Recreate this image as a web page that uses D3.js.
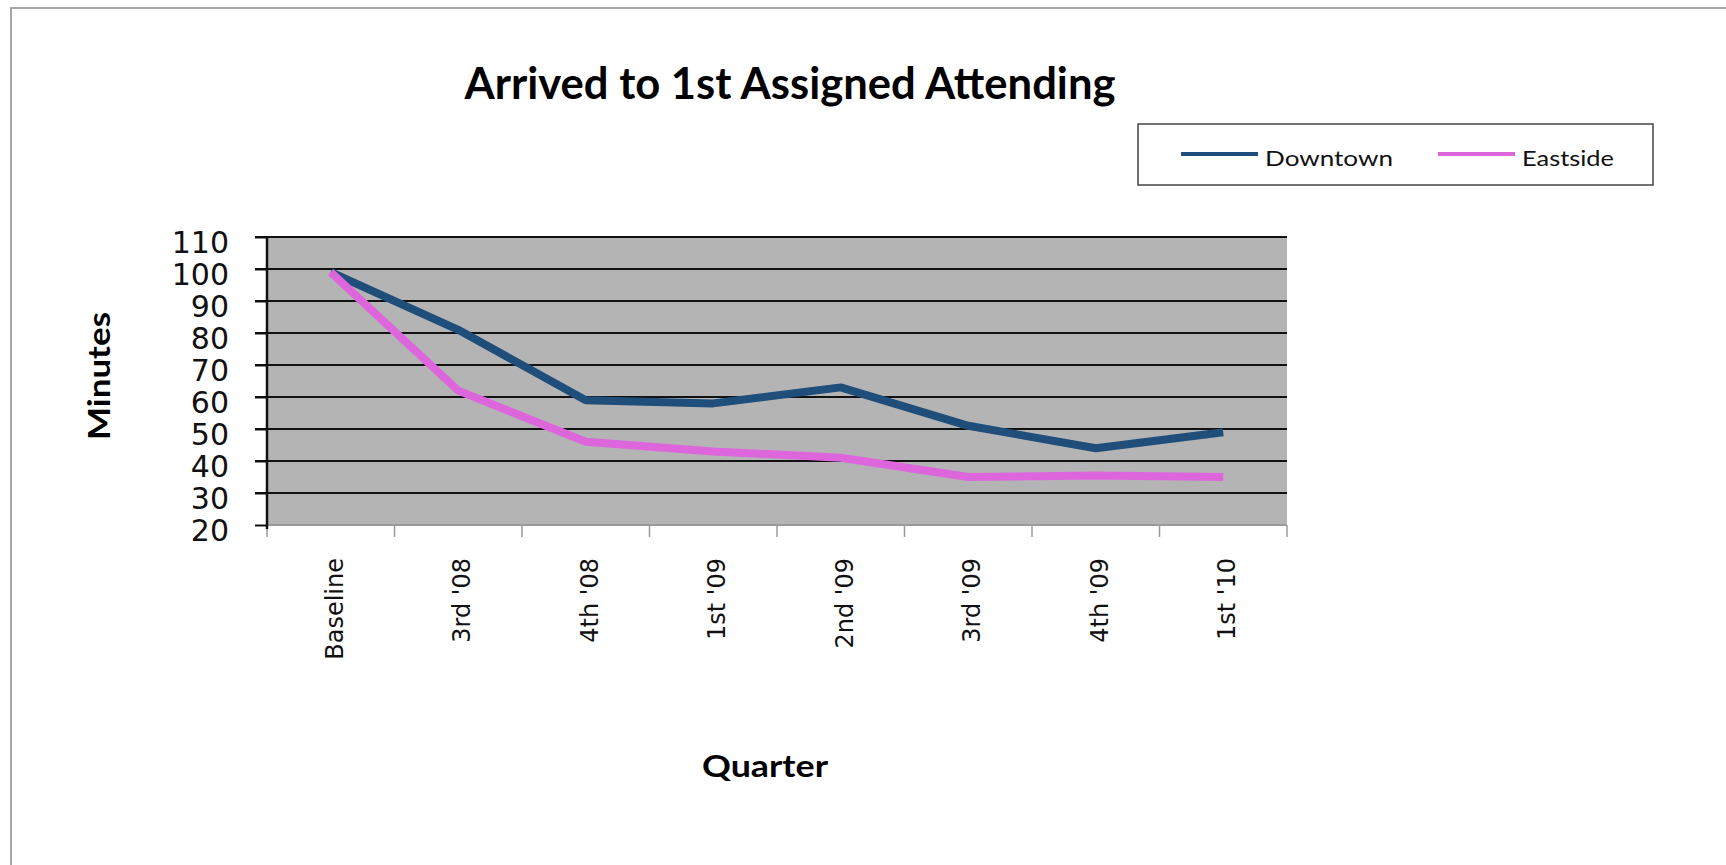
<!DOCTYPE html>
<html>
<head>
<meta charset="utf-8">
<script src="https://d3js.org/d3.v7.min.js"></script>
<style>
  body { margin: 0; background: #fff; overflow: hidden; }
  svg { display: block; }
</style>
</head>
<body>
<div id="chart"></div>
<script>

// data
var quarters = ["Baseline", "3rd '08", "4th '08", "1st '09", "2nd '09", "3rd '09", "4th '09", "1st '10"];
var downtown = [99, 81, 59, 58, 63, 51, 44, 49];
var eastside = [99, 62, 46, 43, 41, 35, 35.5, 35];
var yTicks = [20, 30, 40, 50, 60, 70, 80, 90, 100, 110];
var seriesNames = ["Downtown", "Eastside"];
var seriesColors = ["#1f4e7a", "#dd66dd"];

var W = 1726, H = 865;
var margin = {top: 237, right: 439, bottom: 340, left: 267},
    width = W - margin.left - margin.right,
    height = H - margin.top - margin.bottom;

var svg = d3.select("#chart")
  .append("svg")
    .attr("width", W)
    .attr("height", H);

// outer frame of the chart object (right and bottom edges run off the page)
svg.append("rect")
    .attr("x", 11).attr("y", 8)
    .attr("width", W + 20).attr("height", H + 20)
    .style("fill", "#fff")
    .style("stroke", "#a6a6a6")
    .style("stroke-width", 2);

var g = svg.append("g")
    .attr("transform", "translate(" + margin.left + "," + margin.top + ")");

var x = d3.scaleBand()
    .domain(quarters)
    .range([0, width]);

var y = d3.scaleLinear()
    .domain([20, 110])
    .range([height, 0]);

// plot area
g.append("rect")
    .attr("width", width)
    .attr("height", height)
    .style("fill", "#b4b4b4");

// gridlines
g.append("g")
    .selectAll("line")
    .data(yTicks.filter(function(d) { return d > 20; }))
    .enter().append("line")
      .attr("x1", -12)
      .attr("x2", width)
      .attr("y1", function(d) { return y(d); })
      .attr("y2", function(d) { return y(d); })
      .style("stroke", "#111")
      .style("stroke-width", 2);

// x axis (ticks between categories)
var xAxis = g.append("g")
    .attr("transform", "translate(0," + height + ")");
xAxis.append("line")
    .attr("x1", 0).attr("x2", width)
    .style("stroke", "#9a9a9a")
    .style("stroke-width", 2);
xAxis.selectAll(".xtick")
    .data(quarters.map(function(d) { return x(d); }).concat([width]))
    .enter().append("line")
      .attr("class", "xtick")
      .attr("x1", function(d) { return d; })
      .attr("x2", function(d) { return d; })
      .attr("y1", 0).attr("y2", 12)
      .style("stroke", "#9a9a9a")
      .style("stroke-width", 1.5);
xAxis.selectAll(".xlab")
    .data(quarters)
    .enter().append("text")
      .attr("class", "xlab")
      .attr("transform", function(d) {
        return "translate(" + (x(d) + x.bandwidth() / 2) + ",33) rotate(-90)";
      })
      .attr("dy", "0.5em")
      .style("text-anchor", "end")
      .style("font-family", "DejaVu Sans")
      .style("font-size", "24px")
      .style("fill", "#111")
      .text(function(d) { return d; });

// y axis
var yAxis = g.append("g")
    .call(d3.axisLeft(y).tickValues(yTicks).tickSize(12).tickPadding(26).tickFormat(d3.format("d")));
yAxis.select(".domain")
    .attr("d", "M0,0V" + (height + 4))
    .style("stroke", "#111")
    .style("stroke-width", 2.5);
yAxis.selectAll(".tick line")
    .style("stroke", "#111")
    .style("stroke-width", 2);
yAxis.selectAll(".tick text")
    .attr("dy", "0.5em")
    .style("font-family", "DejaVu Sans")
    .style("font-size", "30px")
    .style("fill", "#111");

// lines
var line = d3.line()
    .x(function(d, i) { return x(quarters[i]) + x.bandwidth() / 2; })
    .y(function(d) { return y(d); });

[downtown, eastside].forEach(function(vals, k) {
  g.append("path")
    .datum(vals)
    .attr("d", line)
    .style("fill", "none")
    .style("stroke", seriesColors[k])
    .style("stroke-width", 8)
    .style("stroke-linejoin", "round");
});

// title
svg.append("text")
    .attr("x", 790).attr("y", 99)
    .attr("textLength", 651)
    .attr("lengthAdjust", "spacingAndGlyphs")
    .style("text-anchor", "middle")
    .style("font-family", "Lato")
    .style("font-weight", "bold")
    .style("font-size", "44px")
    .style("fill", "#000")
    .text("Arrived to 1st Assigned Attending");

// axis titles
svg.append("text")
    .attr("transform", "translate(110,376) rotate(-90)")
    .attr("textLength", 128)
    .attr("lengthAdjust", "spacingAndGlyphs")
    .style("text-anchor", "middle")
    .style("font-family", "Lato")
    .style("font-weight", "bold")
    .style("font-size", "31px")
    .text("Minutes");

svg.append("text")
    .attr("x", 765).attr("y", 777)
    .attr("textLength", 126)
    .attr("lengthAdjust", "spacingAndGlyphs")
    .style("text-anchor", "middle")
    .style("font-family", "Lato")
    .style("font-weight", "bold")
    .style("font-size", "31px")
    .text("Quarter");

// legend
var legend = svg.append("g");
legend.append("rect")
    .attr("x", 1138).attr("y", 124)
    .attr("width", 515).attr("height", 61)
    .style("fill", "#fff")
    .style("stroke", "#444")
    .style("stroke-width", 1.5);

var legX = [1181, 1438], legTextW = [128, 92];
seriesNames.forEach(function(name, k) {
  legend.append("line")
    .attr("x1", legX[k]).attr("x2", legX[k] + 77)
    .attr("y1", 154).attr("y2", 154)
    .style("stroke", seriesColors[k])
    .style("stroke-width", 4);
  legend.append("text")
    .attr("x", legX[k] + 84).attr("y", 166)
    .attr("textLength", legTextW[k])
    .attr("lengthAdjust", "spacingAndGlyphs")
    .style("font-family", "Lato")
    .style("font-size", "22px")
    .style("fill", "#111")
    .text(name);
});

</script>
</body>
</html>
